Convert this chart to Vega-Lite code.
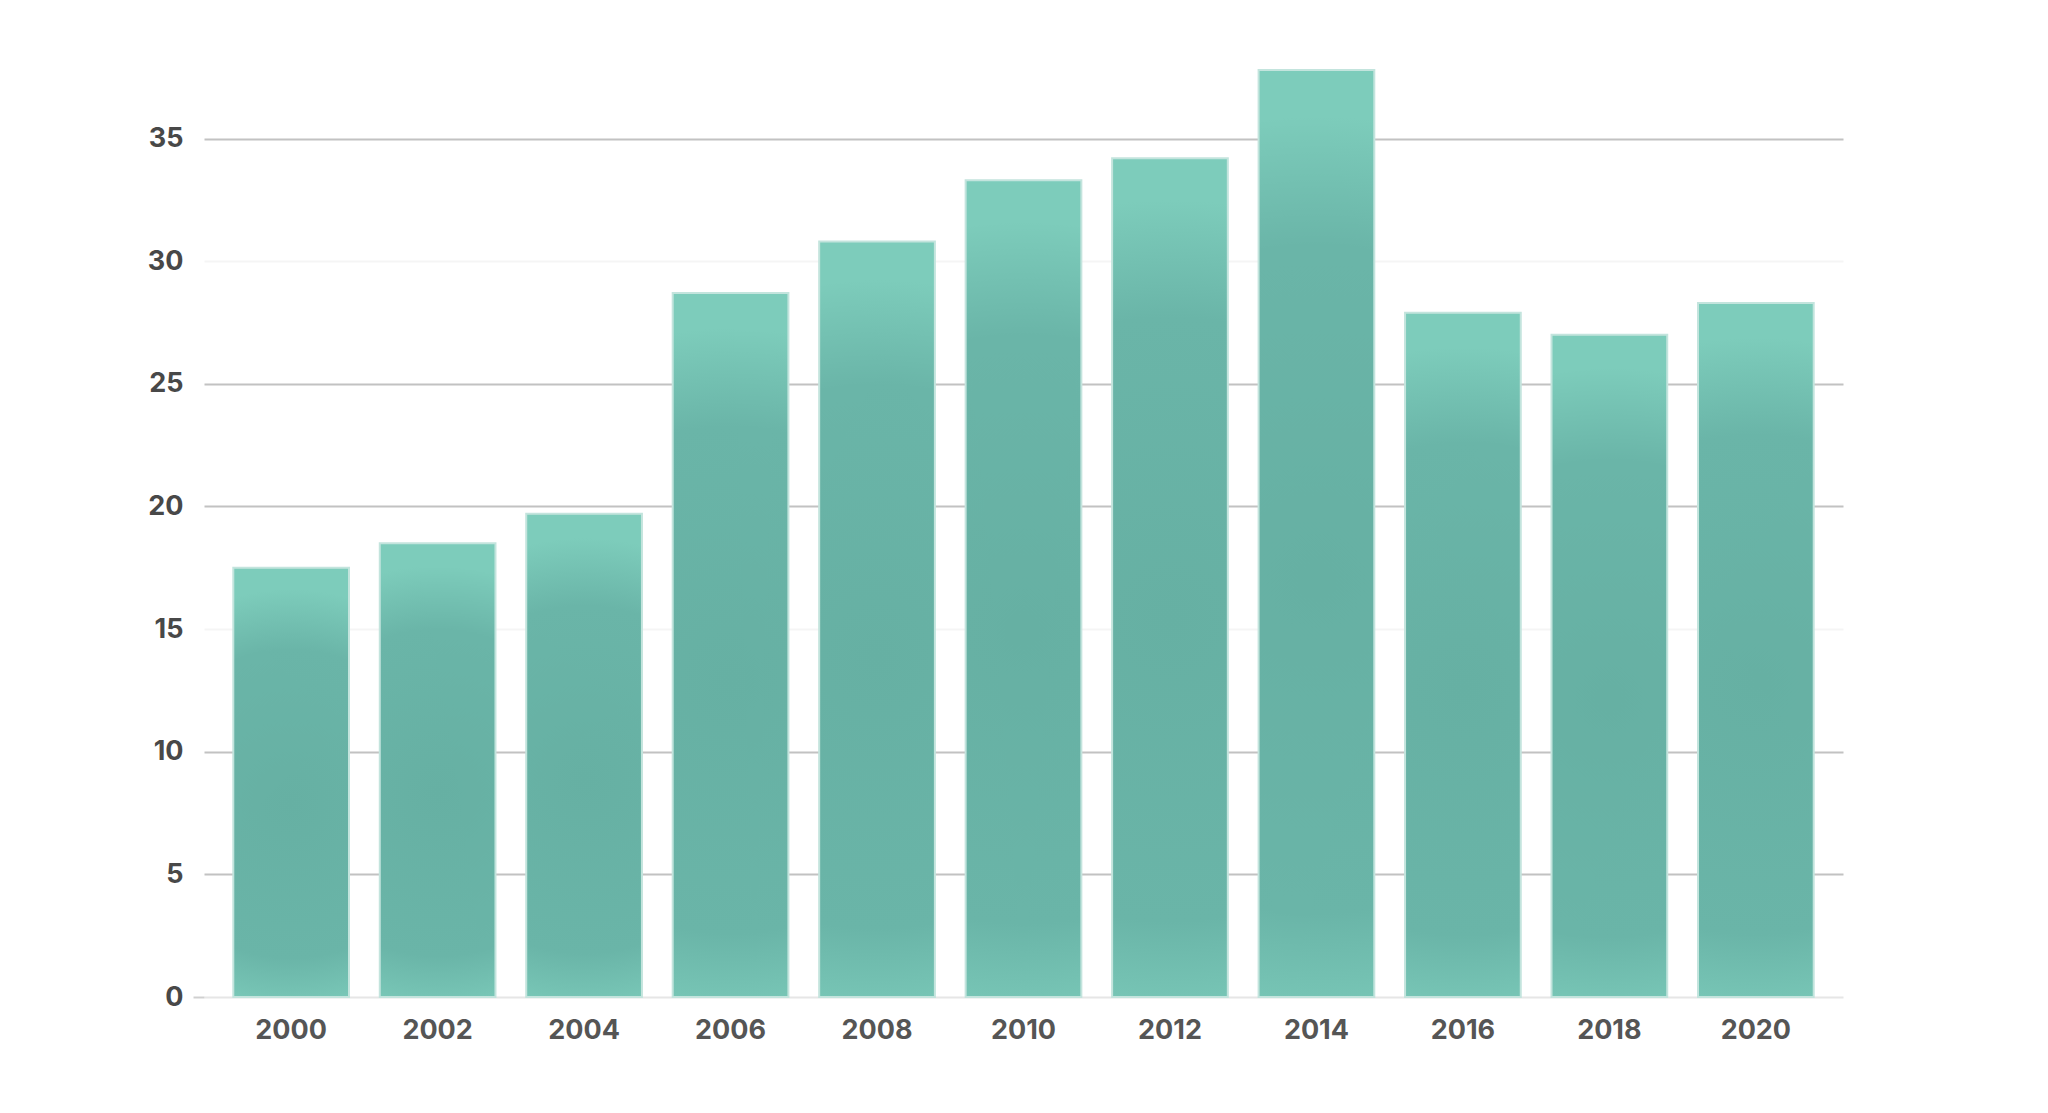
{
  "$schema": "https://vega.github.io/schema/vega-lite/v6.json",
  "autosize": {"type": "none"},
  "width": 1639,
  "height": 932,
  "padding": {"left": 204, "top": 65, "right": 205, "bottom": 116},
  "background": "#ffffff",
  "data": {
    "values": [
      {"year": "2000", "value": 17.5},
      {"year": "2002", "value": 18.5},
      {"year": "2004", "value": 19.7},
      {"year": "2006", "value": 28.7},
      {"year": "2008", "value": 30.8},
      {"year": "2010", "value": 33.3},
      {"year": "2012", "value": 34.2},
      {"year": "2014", "value": 37.8},
      {"year": "2016", "value": 27.9},
      {"year": "2018", "value": 27.0},
      {"year": "2020", "value": 28.3}
    ]
  },
  "mark": {
    "type": "bar",
    "stroke": "#c3e4dd",
    "strokeWidth": 2,
    "color": {
      "gradient": "radial",
      "x1": 0.5, "y1": 0.55, "r1": 0,
      "x2": 0.5, "y2": 0.55, "r2": 0.5,
      "stops": [
        {"offset": 0, "color": "#66b0a3"},
        {"offset": 0.72, "color": "#6ab5a8"},
        {"offset": 1, "color": "#7dccbb"}
      ]
    }
  },
  "encoding": {
    "x": {
      "field": "year",
      "type": "ordinal",
      "scale": {"paddingInner": 0.21, "paddingOuter": 0.2},
      "axis": {
        "title": null,
        "labelAngle": 0,
        "domain": false,
        "ticks": false,
        "labelPadding": 20,
        "labelFont": "Inter",
        "labelFontSize": 27,
        "labelFontWeight": 700,
        "labelColor": "#555555"
      }
    },
    "y": {
      "field": "value",
      "type": "quantitative",
      "scale": {"domain": [0, 38], "nice": false},
      "axis": {
        "title": null,
        "values": [0, 5, 10, 15, 20, 25, 30, 35],
        "domain": false,
        "tickSize": 11,
        "tickWidth": 2,
        "tickColor": {"condition": {"test": "datum.value === 0", "value": "#d0d0d0"}, "value": "transparent"},
        "gridWidth": 2,
        "gridColor": {
          "condition": [
            {"test": "datum.value === 0", "value": "#e6e6e6"},
            {"test": "datum.value === 30 || datum.value === 15", "value": "#f5f5f5"}
          ],
          "value": "#c2c2c2"
        },
        "labelPadding": 10,
        "labelFont": "Inter",
        "labelFontSize": 27,
        "labelFontWeight": 700,
        "labelColor": "#484848"
      }
    }
  },
  "config": {"view": {"stroke": null}}
}
